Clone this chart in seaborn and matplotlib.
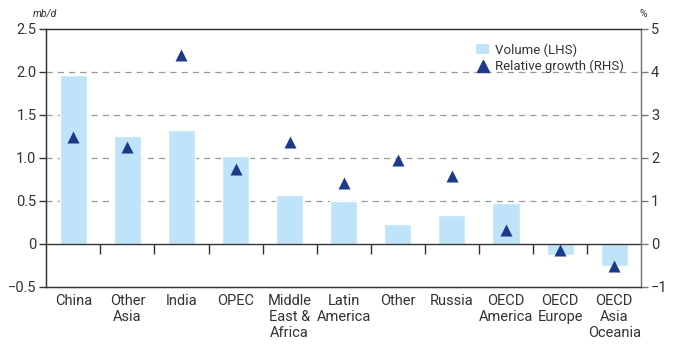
import numpy as np
import pandas as pd
import seaborn as sns
import matplotlib.pyplot as plt
from matplotlib.lines import Line2D
from matplotlib.patches import Patch

# datos
regions = ["China", "Other\nAsia", "India", "OPEC", "Middle\nEast &\nAfrica",
           "Latin\nAmerica", "Other", "Russia", "OECD\nAmerica", "OECD\nEurope",
           "OECD\nAsia\nOceania"]
volume = [1.96, 1.25, 1.32, 1.02, 0.57, 0.50, 0.23, 0.34, 0.47, -0.13, -0.26]
growth = [2.49, 2.26, 4.40, 1.75, 2.37, 1.42, 1.95, 1.58, 0.33, -0.14, -0.51]

left_ticks = [-0.5, 0, 0.5, 1.0, 1.5, 2.0, 2.5]
left_labels = ["\u22120.5", "0", "0.5", "1.0", "1.5", "2.0", "2.5"]
right_ticks = [-1, 0, 1, 2, 3, 4, 5]
right_labels = ["\u22121", "0", "1", "2", "3", "4", "5"]

df = pd.DataFrame({"region": regions, "volume": volume, "growth": growth})

sns.set_style("white")
plt.rcParams["font.family"] = ["Roboto", "DejaVu Sans"]

bar_col = "#bfe3f8"
tri_col = "#1c3a8a"
txt_col = "#333333"

fig, ax = plt.subplots(figsize=(6.8, 3.5), dpi=100)
fig.subplots_adjust(left=0.068, right=0.943, top=0.918, bottom=0.18)

sns.barplot(data=df, x="region", y="volume", color=bar_col, width=0.5,
            saturation=1, ax=ax, zorder=2)
ax.set_ylim(-0.5, 2.5)
ax.set_xlim(-0.5, len(regions) - 0.5)
ax.set_yticks(left_ticks)
ax.set_yticklabels(left_labels)
for y in [0.5, 1.0, 1.5, 2.0]:
    ax.axhline(y, color="#999999", lw=0.9, ls=(0, (5, 4)), zorder=1)
ax.axhline(0, color="#333333", lw=1.0, zorder=3)
# marcas entre categorias, bajo la linea cero
ax.vlines(np.arange(len(regions) - 1) + 0.5, -0.12, 0, color="#333333", lw=1.0, zorder=3)

ax.set_xlabel("")
ax.set_ylabel("")
ax.tick_params(axis="x", length=0, pad=5, labelsize=10.5, labelcolor=txt_col)
ax.tick_params(axis="y", length=5, width=1, color="#333333", labelsize=10.5, labelcolor=txt_col, pad=2)
for s in ["left", "bottom", "top"]:
    ax.spines[s].set_color("#333333")
    ax.spines[s].set_linewidth(1.0)
ax.spines["right"].set_color("#777777")

ax2 = ax.twinx()
sns.scatterplot(data=df, x="region", y="growth", marker="^", s=75, color=tri_col,
                edgecolor=tri_col, linewidth=0, ax=ax2, zorder=4)
ax2.set_ylim(-1, 5)
ax2.set_yticks(right_ticks)
ax2.set_yticklabels(right_labels)
ax2.set_ylabel("")
ax2.tick_params(axis="y", length=5, width=1, color="#777777", labelsize=10.5, labelcolor=txt_col, pad=2)
ax2.spines["right"].set_color("#777777")
ax2.spines["right"].set_linewidth(1.0)
ax2.spines["top"].set_color("#333333")
ax2.spines["left"].set_color("#333333")
ax2.spines["bottom"].set_color("#333333")

fig.text(0.048, 0.975, "mb/d", fontsize=7.5, style="italic", color=txt_col, va="top")
fig.text(0.94, 0.975, "%", fontsize=7.5, color=txt_col, va="top")

handles = [Patch(facecolor=bar_col, edgecolor="none", label="Volume (LHS)"),
           Line2D([], [], marker="^", ls="none", color=tri_col, markersize=9,
                  label="Relative growth (RHS)")]
ax2.legend(handles=handles, loc="upper right", bbox_to_anchor=(0.99, 0.99), frameon=False,
           fontsize=9.5, handlelength=1.0, handletextpad=0.4, labelspacing=0.25,
           labelcolor=txt_col)

plt.savefig("out.png", dpi=100)
